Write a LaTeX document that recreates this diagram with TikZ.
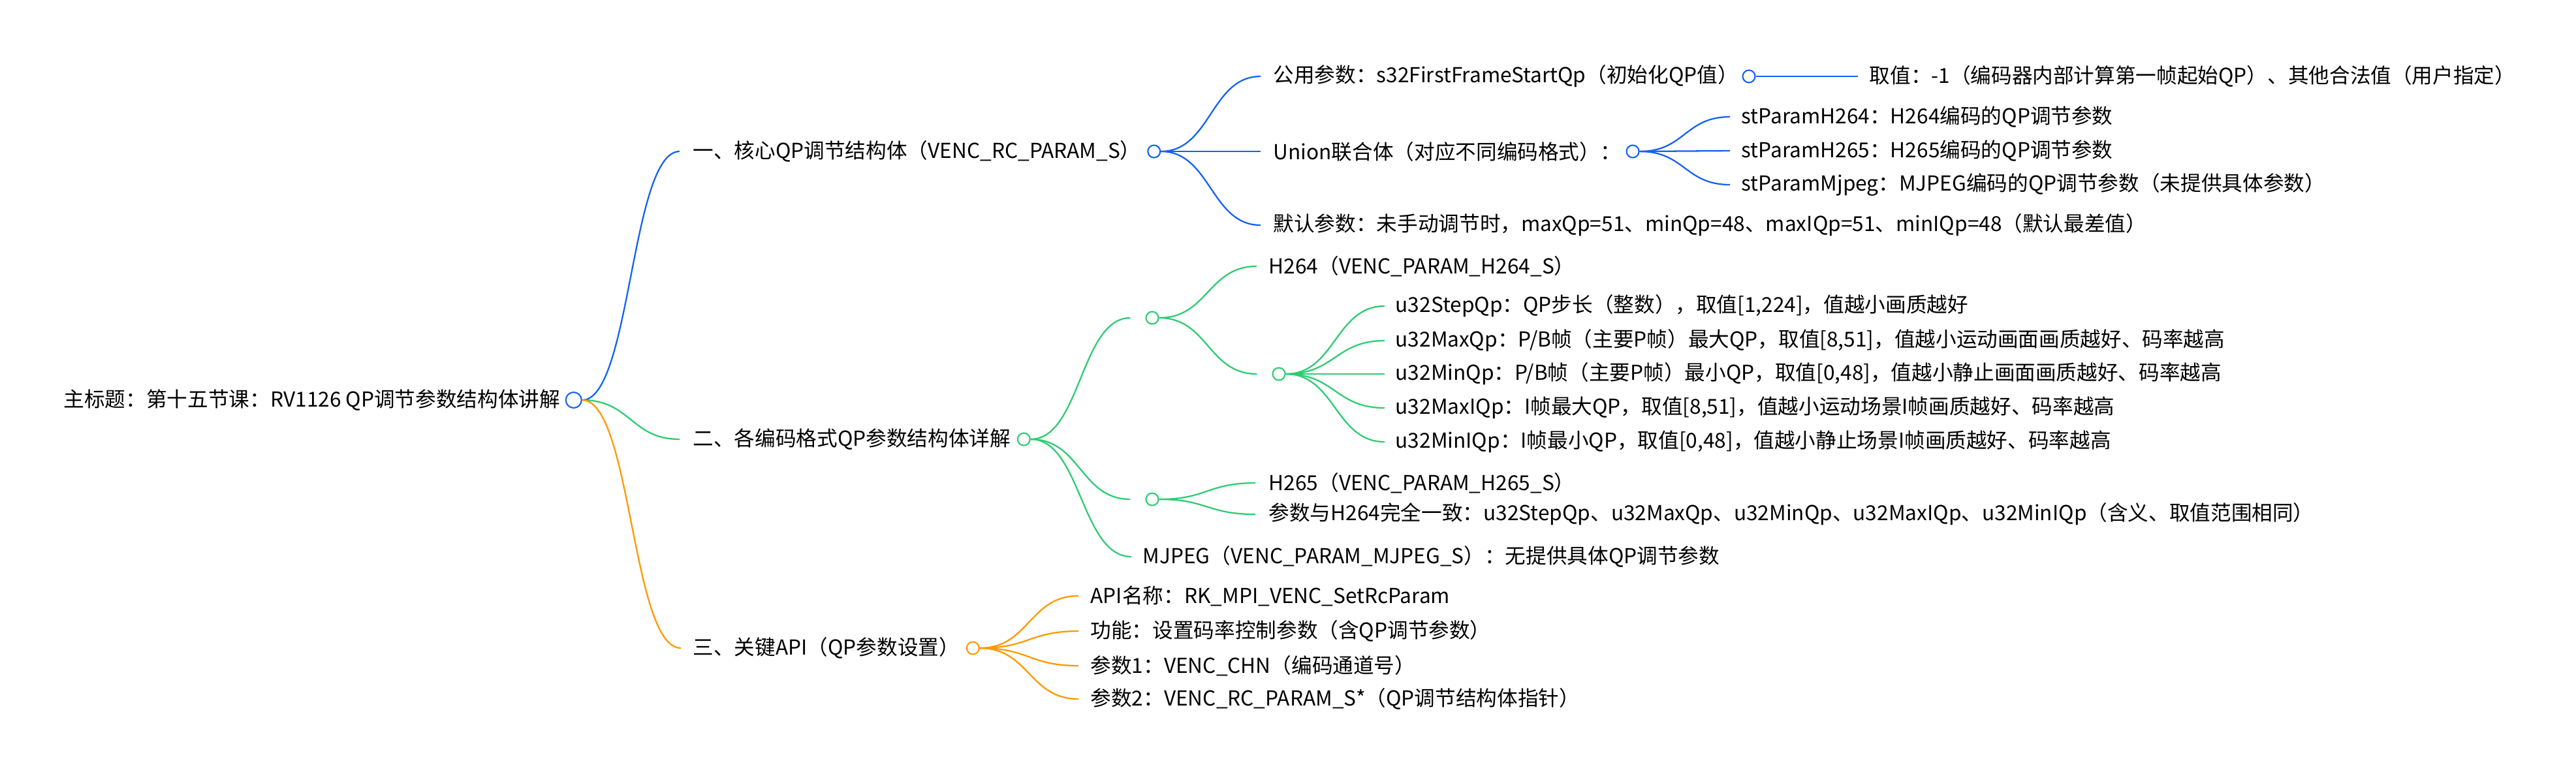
\documentclass[tikz,border=0pt]{standalone}
\usepackage{fontspec}
\setmainfont{Noto Sans CJK SC}
\usetikzlibrary{positioning,calc,backgrounds}
\definecolor{mmblue}{RGB}{20,98,245}
\definecolor{mmgreen}{RGB}{46,204,113}
\definecolor{mmorange}{RGB}{255,153,0}
\newcommand\mlink[3]{\draw[lnk,#1] let \p1=(#2), \p2=(#3) in
  (\p1) .. controls ({0.5*\x1+0.5*\x2},\y1) and ({0.5*\x1+0.5*\x2},\y2) .. (\p2);}

\begin{document}
\begin{tikzpicture}[y=-1cm,
    every node/.style={font=\fontsize{9}{10}\selectfont, inner sep=0pt, anchor=west},
    dot/.style={draw, circle, fill=white, line width=0.6pt, minimum size=0.19cm, anchor=center},
    bigdot/.style={dot, minimum size=0.24cm},
    lnk/.style={line width=0.65pt}]
    \useasboundingbox (0,0) rectangle (39.46,11.88);

    \node (root) at (0.97,6.13) {主标题：第十五节课：RV1126 QP调节参数结构体讲解};
    \node[bigdot, draw=mmblue, right=0.07 of root] (rootc) {};

    \node (core) at (10.61,2.32) {一、核心QP调节结构体（VENC\_RC\_PARAM\_S）};
    \node[dot, draw=mmblue, right=0.09 of core] (corec) {};
    \node (fmt) at (10.61,6.73) {二、各编码格式QP参数结构体详解};
    \node[dot, draw=mmgreen, right=0.09 of fmt] (fmtc) {};
    \node (api) at (10.61,9.93) {三、关键API（QP参数设置）};
    \node[dot, draw=mmorange, right=0.09 of api] (apic) {};

    \node (common) at (19.50,1.17) {公用参数：s32FirstFrameStartQp（初始化QP值）};
    \node[dot, draw=mmblue, right=0.05 of common] (commonc) {};
    \node (commonval) at (28.63,1.17) {取值：-1（编码器内部计算第一帧起始QP）、其他合法值（用户指定）};
    \node (uni) at (19.50,2.32) {Union联合体（对应不同编码格式）：};
    \node[dot, draw=mmblue, right=0.07 of uni] (unic) {};
    \node (h264p) at (26.67,1.79) {stParamH264：H264编码的QP调节参数};
    \node (h265p) at (26.67,2.31) {stParamH265：H265编码的QP调节参数};
    \node (mjpegp) at (26.67,2.83) {stParamMjpeg：MJPEG编码的QP调节参数（未提供具体参数）};
    \node (dflt) at (19.50,3.45) {默认参数：未手动调节时，maxQp=51、minQp=48、maxIQp=51、minIQp=48（默认最差值）};

    \node[dot, draw=mmgreen] (h264g) at (17.65,4.87) {};
    \node (h264t) at (19.43,4.08) {H264（VENC\_PARAM\_H264\_S）};
    \node[dot, draw=mmgreen] (h264d) at (19.59,5.73) {};
    \node (step) at (21.37,4.69) {u32StepQp：QP步长（整数），取值[1,224]，值越小画质越好};
    \node (maxqp) at (21.37,5.22) {u32MaxQp：P/B帧（主要P帧）最大QP，取值[8,51]，值越小运动画面画质越好、码率越高};
    \node (minqp) at (21.37,5.73) {u32MinQp：P/B帧（主要P帧）最小QP，取值[0,48]，值越小静止画面画质越好、码率越高};
    \node (maxiqp) at (21.37,6.25) {u32MaxIQp：I帧最大QP，取值[8,51]，值越小运动场景I帧画质越好、码率越高};
    \node (miniqp) at (21.37,6.77) {u32MinIQp：I帧最小QP，取值[0,48]，值越小静止场景I帧画质越好、码率越高};
    \node[dot, draw=mmgreen] (h265g) at (17.65,7.65) {};
    \node (h265t) at (19.43,7.40) {H265（VENC\_PARAM\_H265\_S）};
    \node (h265same) at (19.43,7.88) {参数与H264完全一致：u32StepQp、u32MaxQp、u32MinQp、u32MaxIQp、u32MinIQp（含义、取值范围相同）};
    \node (mjpeg) at (17.50,8.53) {MJPEG（VENC\_PARAM\_MJPEG\_S）：无提供具体QP调节参数};

    \node (apiname) at (16.70,9.13) {API名称：RK\_MPI\_VENC\_SetRcParam};
    \node (apifunc) at (16.70,9.67) {功能：设置码率控制参数（含QP调节参数）};
    \node (apiarg1) at (16.70,10.20) {参数1：VENC\_CHN（编码通道号）};
    \node (apiarg2) at (16.70,10.71) {参数2：VENC\_RC\_PARAM\_S*（QP调节结构体指针）};

    \begin{scope}[on background layer]
    \mlink{mmblue}{rootc.east}{[xshift=-0.2cm]core.west}
    \mlink{mmgreen}{rootc.east}{[xshift=-0.2cm]fmt.west}
    \mlink{mmorange}{rootc.east}{[xshift=-0.18cm]api.west}

    \mlink{mmblue}{corec.east}{[xshift=-0.19cm]common.west}
    \mlink{mmblue}{corec.east}{[xshift=-0.19cm]uni.west}
    \mlink{mmblue}{corec.east}{[xshift=-0.19cm]dflt.west}
    \mlink{mmblue}{commonc.east}{[xshift=-0.17cm]commonval.west}
    \mlink{mmblue}{unic.east}{[xshift=-0.17cm]h264p.west}
    \mlink{mmblue}{unic.east}{[xshift=-0.17cm]h265p.west}
    \mlink{mmblue}{unic.east}{[xshift=-0.17cm]mjpegp.west}

    \mlink{mmgreen}{fmtc.east}{[xshift=-0.23cm]h264g.west}
    \mlink{mmgreen}{fmtc.east}{[xshift=-0.23cm]h265g.west}
    \mlink{mmgreen}{fmtc.east}{[xshift=-0.17cm]mjpeg.west}
    \mlink{mmgreen}{h264g.east}{[xshift=-0.18cm]h264t.west}
    \mlink{mmgreen}{h264g.east}{[xshift=-0.23cm]h264d.west}
    \foreach \q in {step,maxqp,minqp,maxiqp,miniqp}
      {\mlink{mmgreen}{h264d.east}{[xshift=-0.16cm]\q.west}}
    \mlink{mmgreen}{h265g.east}{[xshift=-0.2cm]h265t.west}
    \mlink{mmgreen}{h265g.east}{[xshift=-0.2cm]h265same.west}

    \foreach \q in {apiname,apifunc,apiarg1,apiarg2}
      {\mlink{mmorange}{apic.east}{[xshift=-0.18cm]\q.west}}
    \end{scope}
\end{tikzpicture}
\end{document}
